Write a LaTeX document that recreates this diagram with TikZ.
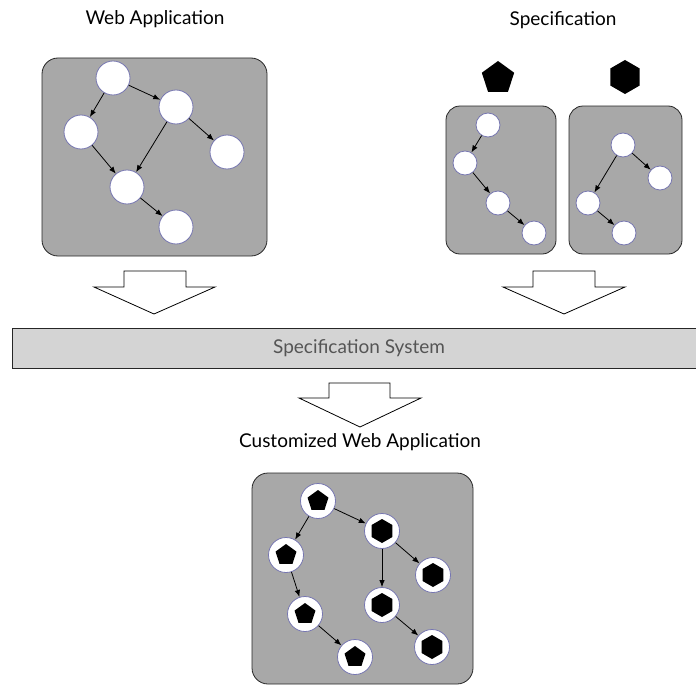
\documentclass[tikz,border=0pt]{standalone}
\usepackage{fontspec}
\setmainfont{Lato}
\usetikzlibrary{shapes.geometric, arrows, arrows.meta, positioning, shapes}
\definecolor{panelfill}{RGB}{168,168,168}
\definecolor{barfill}{RGB}{212,212,212}
\definecolor{ring}{RGB}{118,118,176}
\definecolor{bartext}{RGB}{85,85,85}

\begin{document}
\begin{tikzpicture}[x=1pt, y=-1pt]
\tikzstyle{panel} = [rectangle, draw=black!85, fill=panelfill, rounded corners=16pt, line width=0.8pt, inner sep=0pt]
\tikzstyle{state} = [circle, draw=ring, fill=white, minimum size=34pt, inner sep=0pt, line width=0.8pt]
\tikzstyle{small} = [state, minimum size=24pt]
\tikzstyle{pent} = [regular polygon, regular polygon sides=5, fill=black, inner sep=0pt, minimum size=34pt]
\tikzstyle{hexa} = [regular polygon, regular polygon sides=6, shape border rotate=30, fill=black, inner sep=0pt, minimum size=34pt]
\tikzstyle{pstate} = [state, minimum size=35pt, path picture={\node[pent, minimum size=22pt] at (path picture bounding box.center) {};}]
\tikzstyle{hstate} = [state, minimum size=35pt, path picture={\node[hexa, minimum size=24pt] at (path picture bounding box.center) {};}]
\tikzstyle{line} = [draw, line width=0.8pt, -{Latex[length=7pt, width=5.5pt]}]
\tikzstyle{bigarrow} = [draw=black, fill=white, line width=0.8pt]
\tikzstyle{heading} = [font=\fontsize{19}{22}\selectfont]
\useasboundingbox (0,0) rectangle (696,685);

    % Place boxes
    \node [panel, minimum width=225pt, minimum height=198pt] (webapp) at (154.5,157) {};
    \node [panel, rounded corners=14pt, minimum width=110pt, minimum height=148pt] (specA) at (501,180) {};
    \node [panel, rounded corners=14pt, minimum width=113pt, minimum height=148pt] (specB) at (625.5,180) {};
    \node [panel, minimum width=221pt, minimum height=211pt] (custom) at (362.5,578.5) {};
    \node [rectangle, draw=black!85, fill=barfill, line width=0.8pt, minimum width=694pt, minimum height=40pt,
        text=bartext, heading] (system) at (359,348) {Specification System};

    % Headings
    \node [heading] (webtitle) at (155,19) {Web Application};
    \node [heading] (spectitle) at (563,20) {Specification};
    \node [heading] (customtitle) at (360,442) {Customized Web Application};
    \node [pent] (pentkey) at (498,78) {};
    \node [hexa] (hexkey) at (625,77) {};

    % Web application graph
    \node [state] (w1) at (113,78) {};
    \node [state] (w2) at (176,107) {};
    \node [state] (w3) at (81,132) {};
    \node [state] (w4) at (227,152) {};
    \node [state] (w5) at (127,187) {};
    \node [state] (w6) at (176,227) {};

    % Specification graphs
    \node [small] (a1) at (488,125) {};
    \node [small] (a2) at (465,163) {};
    \node [small] (a3) at (498,203) {};
    \node [small] (a4) at (534,233) {};
    \node [small] (b1) at (623,145) {};
    \node [small] (b2) at (660,178) {};
    \node [small] (b3) at (588,203) {};
    \node [small] (b4) at (624,233) {};

    % Customized graph
    \node [pstate] (c1) at (318,501) {};
    \node [hstate] (c2) at (382,531) {};
    \node [pstate] (c3) at (286,555) {};
    \node [hstate] (c4) at (433,575) {};
    \node [pstate] (c5) at (305,614) {};
    \node [hstate] (c6) at (382,605) {};
    \node [pstate] (c7) at (355,657) {};
    \node [hstate] (c8) at (432,647) {};

%paths
    \path [line] (w1) -- (w2);
    \path [line] (w1) -- (w3);
    \path [line] (w3) -- (w5);
    \path [line] (w2) -- (w5);
    \path [line] (w2) -- (w4);
    \path [line] (w5) -- (w6);

    \path [line] (a1) -- (a2);
    \path [line] (a2) -- (a3);
    \path [line] (a3) -- (a4);
    \path [line] (b1) -- (b2);
    \path [line] (b1) -- (b3);
    \path [line] (b3) -- (b4);

    \path [line] (c1) -- (c2);
    \path [line] (c1) -- (c3);
    \path [line] (c3) -- (c5);
    \path [line] (c5) -- (c7);
    \path [line] (c2) -- (c4);
    \path [line] (c2) -- (c6);
    \path [line] (c6) -- (c8);

%block arrows
    \draw [bigarrow] (124,271) -- (186,271) -- (186,287) -- (215,287) -- (154,314) -- (94,287) -- (124,287) -- cycle;
    \draw [bigarrow] (533,271) -- (595,271) -- (595,287) -- (625,287) -- (564,314) -- (503,287) -- (533,287) -- cycle;
    \draw [bigarrow] (329,383) -- (390,383) -- (390,398) -- (421,398) -- (360,427) -- (299,398) -- (329,398) -- cycle;

\end{tikzpicture}
\end{document}
